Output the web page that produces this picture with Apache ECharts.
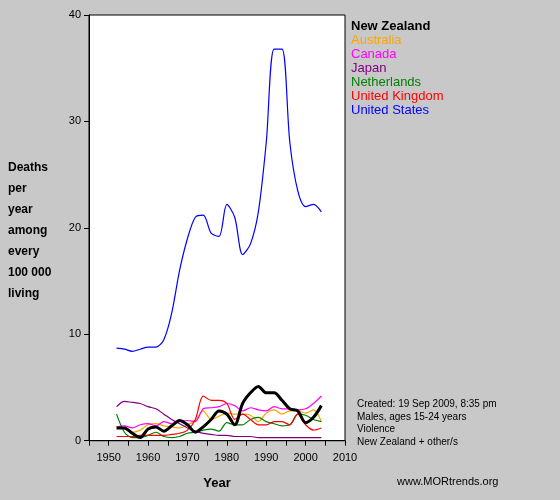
<!DOCTYPE html><html><head><script src="https://cdn.jsdelivr.net/npm/echarts@6/dist/echarts.min.js"></script>
<style>body{margin:0;background:#c8c8c8}#c{width:560px;height:500px}</style></head><body><div id="c"></div><script>
const years=[1952,1954,1956,1958,1960,1962,1964,1966,1968,1970,1972,1974,1976,1978,1980,1982,1984,1986,1988,1990,1992,1994,1996,1998,2000,2002,2004];
const us=[8.7,8.6,8.4,8.6,8.8,8.8,9.5,12,16,19,21,21.2,19.5,19.2,22.2,21,17.5,18.5,21.5,28,36.8,36.8,28,23.5,22,22.2,21.5];
const nz=[1.2,1.2,0.7,0.3,1.1,1.3,0.9,1.4,1.9,1.5,0.8,1.3,2.0,2.8,2.5,1.5,3.5,4.5,5.1,4.5,4.5,3.8,3.0,2.8,1.7,2.2,3.3];
const au=[1.3,1.1,0.8,1.0,1.5,1.6,1.4,1.3,1.2,1.5,1.9,2.8,2.0,2.3,2.6,2.5,2.5,2.4,1.8,2.6,2.9,2.5,2.8,2.8,2.6,2.9,1.8];
const ca=[1.3,1.4,1.2,1.5,1.6,1.4,1.8,1.6,1.8,1.9,1.8,3.0,3.1,3.2,3.5,3.3,2.8,3.1,2.9,2.8,3.2,3.0,3.0,2.9,3.0,3.5,4.2];
const nl=[2.5,0.8,0.3,0.3,0.5,0.8,0.4,0.3,0.4,0.7,0.8,1.0,1.1,0.9,1.7,1.5,1.5,2.0,2.2,1.8,1.6,1.4,1.5,2.5,2.4,2.0,1.8];
const uk=[0.4,0.4,0.4,0.5,0.5,0.5,0.5,0.6,0.7,1.0,2.0,4.2,3.8,3.8,3.5,2.0,2.5,2.0,1.5,1.5,1.8,1.8,1.5,2.5,1.5,1.0,1.2];
const jp=[3.2,3.7,3.6,3.5,3.2,3.0,2.5,2.0,1.6,1.2,0.9,0.7,0.6,0.5,0.5,0.4,0.4,0.4,0.3,0.3,0.3,0.3,0.3,0.3,0.3,0.3,0.3];
const names=['New Zealand','Australia','Canada','Japan','Netherlands','United Kingdom','United States'];
const cols=['#000000','#ffa500','#ff00ff','#800080','#008000','#ff0000','#0000ff'];
const data=[nz,au,ca,jp,nl,uk,us];
const ch=echarts.init(document.getElementById('c'));
const series=data.map((d,i)=>({name:names[i],type:'line',smooth:0.3,symbol:'none',z:i==0?10:2,
 data:d.map((v,j)=>[years[j],v]),lineStyle:{color:cols[i],width:i==0?3:1.2}}));
const gtxt=(t,x,y,o)=>({type:'text',left:x,top:y,style:Object.assign({text:t,fill:'#000',font:'11px Arial'},o||{})});
ch.setOption({backgroundColor:'#c8c8c8',animation:false,
grid:{left:89,right:215,top:15,bottom:53,show:true,backgroundColor:'#fff',borderColor:'#000',borderWidth:1},
xAxis:{type:'value',min:1945,max:2010,interval:5,axisLabel:{color:'#000',fontSize:11,formatter:v=>v%10==0&&v>=1950?v:''},
 axisTick:{lineStyle:{color:'#000'}},axisLine:{lineStyle:{color:'#000'}},splitLine:{show:false},
 name:'Year',nameLocation:'middle',nameGap:26,nameTextStyle:{fontWeight:'bold',fontSize:13,color:'#000'}},
yAxis:{type:'value',min:0,max:40,interval:10,axisLabel:{color:'#000',fontSize:11},axisTick:{show:true,lineStyle:{color:'#000'}},
 axisLine:{show:true,lineStyle:{color:'#000'}},splitLine:{show:false}},
series:series,
graphic:[
 {type:'text',left:8,top:157,style:{text:'Deaths\nper\nyear\namong\nevery\n100 000\nliving',fill:'#000',font:'bold 12px Arial',lineHeight:21}},
 ...names.map((n,i)=>({type:'text',left:351,top:15+i*14,style:{text:n,fill:cols[i],font:(i==0?'bold ':'')+'13px Arial'}})),
 gtxt('Created: 19 Sep 2009, 8:35 pm\nMales, ages 15-24 years\nViolence\nNew Zealand + other/s',357,396,{lineHeight:12.5,font:'10px Arial'}),
 gtxt('www.MORtrends.org',397,472)
]});
</script></body></html>
